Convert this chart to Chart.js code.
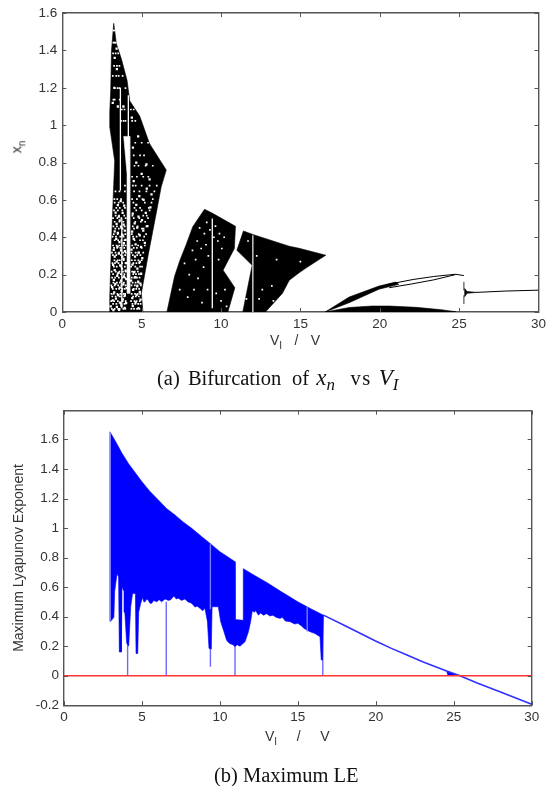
<!DOCTYPE html>
<html><head><meta charset="utf-8">
<script src="https://cdn.jsdelivr.net/npm/chart.js@4/dist/chart.umd.min.js"></script>
<style>
html,body{margin:0;padding:0;background:#fff;width:550px;height:786px;overflow:hidden}
canvas{position:absolute;left:0}
.t{position:absolute;white-space:pre;color:#333;font-family:"Liberation Sans",sans-serif;font-size:14px;line-height:16px}
.t sub{font-size:10px;vertical-align:-4px;line-height:0}
.c{position:absolute;white-space:nowrap;color:#111;font-family:"Liberation Serif",serif;font-size:20.5px;line-height:22px;word-spacing:3px}
.c i{font-size:23px}
.c sub{font-size:17px;vertical-align:-5px;line-height:0}
</style></head><body>
<canvas id="a" width="550" height="350" style="top:0;width:550px;height:350px"></canvas>
<canvas id="b" width="550" height="350" style="top:395px;width:550px;height:350px"></canvas>
<div class="t" style="left:270px;top:332px;word-spacing:-0.8px">V<sub>I</sub>    /    V</div>
<div class="t" style="left:265px;top:728px;word-spacing:1px">V<sub>I</sub>    /    V</div>
<div class="t" style="left:10px;top:139px;transform:rotate(-90deg);">x<sub>n</sub></div>
<div class="c" style="left:157px;top:367px">(a) Bifurcation <span style="margin-left:2.7px">of</span> <i style="display:inline-block;width:26px;margin-left:-1px">x<sub>n</sub></i> <span style="letter-spacing:1.5px">vs</span> <i style="margin-left:-1px">V<sub>I</sub></i></div>
<div class="c" style="left:214px;top:764px;word-spacing:0">(b) Maximum LE</div>
<script>
const xTicks=[0,5,10,15,20,25,30];
const yTicksA=[0,0.2,0.4,0.6,0.8,1,1.2,1.4,1.6];
const yTicksB=[-0.2,0,0.2,0.4,0.6,0.8,1,1.2,1.4,1.6];

// (a) black envelope outlines, [V, x]
const lobeMain=[[3.24,1.545],[3.41,1.435],[3.72,1.355],[4.08,1.24],[4.25,1.13],[4.87,1.05],[5.5,0.9],[6.55,0.76],[6.23,0.67],[5.92,0.53],[5.4,0.3],[4.98,0.1],[5.08,0],[2.99,0],[2.99,0.08],[3.05,0.245],[3.2,0.6],[3.3,0.81],[2.99,0.99],[2.99,1.07],[3.05,1.185],[3.1,1.4]];
const lobeMiddle=[[6.59,0],[7.07,0.19],[7.4,0.275],[7.8,0.36],[8.22,0.457],[8.96,0.55],[9.47,0.528],[10.91,0.459],[10.84,0.34],[10.13,0.224],[10.87,0.13],[10.43,0]];
const lobeRight=[[11.41,0.434],[12,0.415],[14.3,0.352],[14.92,0.341],[16.6,0.304],[15.35,0.235],[14.92,0.21],[14.3,0.17],[13.87,0.1],[12.8,0],[11.37,0],[11.96,0.25],[11,0.33]];
const wedgeUpper=[[16.56,0],[18.07,0.08],[19.95,0.139],[21,0.16],[21.2,0.148],[19.95,0.122],[18.07,0.05]];
const lineUpperA=[[20.4,0.146],[22.1,0.174],[23.4,0.19],[24.77,0.202],[25.3,0.195]];
const lineUpperB=[[20.6,0.13],[22,0.15],[23.4,0.172],[24.77,0.2]];
const archLower=[[16.56,0],[18.07,0.024],[19.5,0.032],[20.6,0.032],[22.3,0.025],[23.9,0.012],[24.77,0.002],[24.77,0],[16.56,0]];
const starBody=[[25.35,0.126],[25.5,0.11],[26.13,0.105],[25.5,0.1],[25.35,0.082]];
const settled=[[26.1,0.105],[27.9,0.112],[30,0.117]];
const jumpBarUp=[[25.3,0.162],[25.3,0.115]];
const jumpBarDown=[[25.3,0.09],[25.3,0.043]];
// white bands inside the envelopes
const whiteStrip=[[3.87,0.94],[4.25,0.94],[4.25,0.1],[4.08,0.1],[4.08,0.74]];
const whiteLines=[[[3.66,1.2],[3.66,0.65]],[[4.16,1.16],[4.16,0.6]],[[9.45,0.5],[9.45,0.02]],[[3.75,0.5],[3.75,0.02]]];
const greyLine=[[12,0.41],[12,0]];
// scattered holes in the black, one row per x value
const holeRowsY=[0.017,0.043,0.058,0.083,0.097,0.124,0.142,0.157,0.184,0.203,0.216,0.243,0.262,0.277,0.304,0.318,0.343,0.356,0.384,0.403,0.417,0.446,0.458,0.483,0.503,0.516,0.544,0.557,0.586,0.604,0.646,0.677,0.724,0.783,0.838,0.906,1.023,1.084,1.137,1.198,1.264,1.317,1.384,1.442,1.507];
const holeRowsV=[
[3.12,3.3,3.52,3.61,3.85,3.97,4.35,4.52,4.71,4.86],
[3.2,3.41,3.68,3.92,4.42,4.6,4.78,4.93],
[3.08,3.27,3.5,3.8,3.99,4.33,4.55,4.68,4.88],
[3.15,3.36,3.6,3.7,3.9,4.46,4.63,4.82],
[3.1,3.23,3.47,3.66,3.86,3.96,4.37,4.58,4.75,4.9],
[3.18,3.4,3.58,3.78,3.93,4.5,4.66,4.84],
[3.09,3.3,3.52,3.72,3.99,4.36,4.57,4.73,4.95],
[3.22,3.44,3.63,3.88,4.43,4.62,4.8],
[3.14,3.33,3.56,3.8,3.95,4.38,4.54,4.7,4.87],
[3.2,3.48,3.69,3.91,4.47,4.64,4.83,4.98],
[3.11,3.37,3.6,3.82,4.0,4.4,4.56,4.76],
[3.25,3.43,3.7,3.94,4.34,4.6,4.9,5.02],
[3.16,3.32,3.54,3.77,3.98,4.48,4.67,4.85],
[3.28,3.5,3.62,3.87,4.38,4.58,4.79,5.0],
[3.19,3.4,3.7,3.96,4.44,4.72,4.92],
[3.13,3.35,3.57,3.83,4.0,4.36,4.62,4.84,5.1],
[3.26,3.46,3.66,3.9,4.5,4.7,5.0],
[3.2,3.42,3.6,3.84,3.98,4.41,4.78,5.2],
[3.3,3.52,3.72,3.92,4.55,4.9,5.08],
[3.17,3.38,3.65,3.86,4.46,4.68,5.16],
[3.24,3.49,3.75,3.97,4.38,4.82,5.28],
[3.34,3.56,3.8,4.52,5.02,5.12],
[3.22,3.44,3.68,3.93,4.44,4.74,5.3],
[3.3,3.6,3.85,4.6,4.95,5.22],
[3.2,3.47,3.72,3.99,4.5,4.85,5.4],
[3.36,3.58,3.9,4.42,5.1,5.32],
[3.26,3.5,3.78,4.66,5.0,5.5],
[3.4,3.62,3.95,4.55,4.9,5.45],
[3.3,3.55,3.84,4.48,5.2,5.62],
[3.28,3.46,3.7,4.4,4.7,5.05,5.7],
[3.35,3.6,3.94,4.52,4.86,5.3,5.8],
[3.95,4.45,4.62,5.0,5.5,5.95],
[4.4,4.7,5.1,5.42],
[4.55,4.8,5.25,5.7],
[4.5,4.9,5.15],
[4.6,5.0,5.4],
[3.7,3.86,3.98,4.4,4.6],
[3.75,3.92,4.32,4.5],
[3.22,3.3,3.62,4.35,4.47],
[3.3,3.48,3.6,3.98],
[3.18,3.4,3.55,3.8],
[3.26,3.44,3.6],
[3.2,3.36,3.52],
[3.22,3.3,3.36],
[3.22,3.27]
];
// finer holes where the lower left of the lobe breaks up
const holesFine=[[3.05,0.03],[3.22,0.01],[3.44,0.028],[3.58,0.012],[3.72,0.034],[3.93,0.022],[3.18,0.062],[3.38,0.072],[3.63,0.05],[3.82,0.067],[4.02,0.048],[4.44,0.031],[4.62,0.052],[4.8,0.021],[4.93,0.066],[3.27,0.105],[3.52,0.09],[3.74,0.112],[3.94,0.088],[4.41,0.074],[4.68,0.092],[4.88,0.108],[3.14,0.133],[3.34,0.15],[3.62,0.13],[3.84,0.148],[4.05,0.128],[4.46,0.118],[4.72,0.137],[4.92,0.152],[3.25,0.172],[3.46,0.193],[3.7,0.168],[3.88,0.19],[4.03,0.176],[4.33,0.168],[4.6,0.186],[4.78,0.163],[3.3,0.224],[3.54,0.21],[3.76,0.232],[3.99,0.222],[4.52,0.214],[4.73,0.232],[4.96,0.206],[3.2,0.252],[3.42,0.27],[3.64,0.25],[3.86,0.284],[4.04,0.262],[4.42,0.254],[4.88,0.268],[3.3,0.296],[3.56,0.312],[3.78,0.296],[3.95,0.326],[4.58,0.296],[4.8,0.318],[5.04,0.288],[3.24,0.332],[3.48,0.35],[3.7,0.33],[3.88,0.368],[4.36,0.334],[4.62,0.362],[4.96,0.348],[3.4,0.392],[3.6,0.374],[3.8,0.41],[3.98,0.386],[4.5,0.392],[4.88,0.41],[5.2,0.37],[3.3,0.432],[3.5,0.424],[3.72,0.452],[3.94,0.436],[4.4,0.43],[4.72,0.452],[5.1,0.436],[3.42,0.472],[3.62,0.49],[3.86,0.468],[4.56,0.474],[5.02,0.492],[5.36,0.46],[3.36,0.532],[3.56,0.51],[3.8,0.53],[4.44,0.526],[4.8,0.51],[5.26,0.53],[3.5,0.572],[3.68,0.594],[3.9,0.57],[4.66,0.574],[5.12,0.6],[5.55,0.56],[4.85,0.62],[5.32,0.66],[5.62,0.63],[4.5,0.7],[5.0,0.74],[5.5,0.71],[4.66,0.8],[5.3,0.79],[4.45,0.88],[4.78,0.94],[3.28,1.2],[3.44,1.3],[3.3,1.36],[3.42,1.41],[3.18,1.12],[3.5,1.1],[3.85,1.1],[4.38,1.04]];
const holesMiddle=[[7.4,0.12],[7.7,0.26],[7.9,0.08],[8.0,0.2],[8.2,0.33],[8.3,0.12],[8.4,0.28],[8.5,0.38],[8.55,0.18],[8.65,0.45],[8.75,0.34],[8.8,0.05],[8.9,0.24],[8.95,0.42],[9.05,0.36],[9.1,0.48],[9.15,0.12],[9.2,0.3],[9.3,0.44],[9.55,0.4],[9.65,0.46],[9.7,0.1],[9.8,0.38],[9.85,0.28],[9.9,0.42],[10,0.06],[10.05,0.34],[10.2,0.4],[10.25,0.12],[10.35,0.03],[11.6,0.07],[11.7,0.38],[12.25,0.3],[12.4,0.07],[12.6,0.12],[13.2,0.14],[13.3,0.06],[13.5,0.28],[15,0.27]];

// (b) Lyapunov band, [V, LE]
const bandUpper=[[2.95,1.652],[3.38,1.573],[3.7,1.51],[4.13,1.438],[4.5,1.385],[5,1.314],[5.5,1.25],[6.16,1.178],[6.6,1.13],[7.12,1.088],[7.6,1.045],[8.19,0.998],[8.8,0.945],[9.37,0.896],[10,0.84],[10.5,0.805],[10.97,0.772],[10.98,0.38],[11.49,0.375],[11.5,0.725],[12.2,0.68],[13,0.632],[14,0.565],[15,0.5],[15.8,0.455],[16.64,0.41]];
const bandLower=[[2.95,0.366],[3.05,0.375],[3.2,0.395],[3.25,0.57],[3.4,0.69],[3.5,0.67],[3.55,0.16],[3.68,0.16],[3.72,0.6],[3.85,0.57],[3.9,0.43],[4.02,0.22],[4.15,0.2],[4.28,0.467],[4.4,0.557],[4.58,0.557],[4.62,0.15],[4.73,0.15],[4.79,0.43],[4.92,0.49],[5.05,0.53],[5.12,0.5],[5.2,0.5],[5.3,0.52],[5.41,0.51],[5.52,0.49],[5.63,0.49],[5.75,0.51],[5.95,0.5],[6.1,0.515],[6.26,0.5],[6.48,0.52],[6.69,0.51],[6.85,0.515],[7.05,0.54],[7.2,0.52],[7.33,0.525],[7.55,0.51],[7.76,0.52],[7.95,0.5],[8.19,0.49],[8.4,0.465],[8.55,0.47],[8.72,0.456],[8.9,0.44],[9.04,0.456],[9.2,0.366],[9.3,0.185],[9.45,0.18],[9.5,0.467],[9.9,0.467],[10.05,0.366],[10.26,0.298],[10.43,0.24],[10.6,0.22],[10.86,0.208],[10.97,0.196],[11.1,0.21],[11.29,0.2],[11.45,0.215],[11.61,0.23],[11.83,0.298],[11.97,0.366],[12.08,0.44],[12.2,0.43],[12.3,0.44],[12.47,0.41],[12.6,0.425],[12.8,0.41],[13,0.42],[13.21,0.404],[13.4,0.41],[13.6,0.395],[13.86,0.388],[14,0.395],[14.2,0.37],[14.5,0.366],[14.8,0.35],[15,0.355],[15.24,0.336],[15.4,0.32],[15.78,0.298],[16.1,0.285],[16.42,0.264],[16.5,0.106],[16.58,0.106],[16.64,0.41]];
const tail=[[16.64,0.41],[18,0.34],[19.95,0.237],[21,0.185],[22,0.14],[23,0.095],[24.54,0.032],[25.4,0],[26.5,-0.05],[28,-0.11],[30,-0.194]];
const tailBump=[[24.54,0.032],[24.62,0.005],[25.2,0.005],[24.9,0.018]];
const spikes=[[[4.08,0.22],[4.08,0]],[[6.56,0.5],[6.56,0]],[[9.39,0.2],[9.39,0.06]],[[10.97,0.2],[10.97,0]],[[16.6,0.41],[16.6,0]],[[3.6,0.3],[3.6,0.16]]];
const lightInBand=[[[9.39,0.89],[9.39,0.45]],[[15.6,0.467],[15.6,0.3]],[[2.97,1.65],[2.97,0.37]]];
const zeroLine=[[0,0],[30,0]];

const pts=a=>a.map(p=>({x:p[0],y:p[1]}));
const shape=(a,c)=>({data:pts(a.concat([a[0]])),fill:'shape',backgroundColor:c,borderColor:c,borderWidth:0.6,pointRadius:0,tension:0});
const stroke=(a,c,w)=>({data:pts(a),fill:false,borderColor:c,borderWidth:w,pointRadius:0,tension:0});

const AX='#555';
const boxTicks={id:'boxTicks',afterDraw(chart){
  const {ctx,chartArea:ca,scales:{x,y}}=chart;
  ctx.save();ctx.strokeStyle=AX;ctx.lineWidth=1;ctx.beginPath();
  x.ticks.forEach(t=>{const p=Math.round(x.getPixelForValue(t.value))+0.5;
    ctx.moveTo(p,ca.bottom);ctx.lineTo(p,ca.bottom-4);ctx.moveTo(p,ca.top);ctx.lineTo(p,ca.top+4);});
  y.ticks.forEach(t=>{const p=Math.round(y.getPixelForValue(t.value))+0.5;
    ctx.moveTo(ca.left,p);ctx.lineTo(ca.left+4,p);ctx.moveTo(ca.right,p);ctx.lineTo(ca.right-4,p);});
  ctx.stroke();ctx.restore();
}};
function axes(cfg){
  const border={color:AX,width:1.4};
  const hidden=(pos)=>({position:pos,border,ticks:{display:false},grid:{display:false,drawTicks:false}});
  const fitTicks=arr=>s=>{s.ticks=arr.map(v=>({value:v}));};
  const label=v=>String(Math.round(v*10)/10);
  const font={family:'"Liberation Sans",sans-serif',size:13.5};
  return {
    x:{type:'linear',position:'bottom',min:0,max:30,border,afterBuildTicks:fitTicks(xTicks),
       afterFit:s=>{s.height=cfg.xh;},
       grid:{display:false,drawTicks:false},
       ticks:{padding:4,color:'#333',font,maxRotation:0,autoSkip:false,callback:label}},
    y:{type:'linear',position:'left',min:cfg.ymin,max:cfg.ymax,border,afterBuildTicks:fitTicks(cfg.yticks),
       afterFit:s=>{s.width=cfg.left;},
       grid:{display:false,drawTicks:false},
       ticks:{padding:5,color:'#333',font,autoSkip:false,callback:label},
       title:cfg.ytitle?{display:true,text:cfg.ytitle,color:'#333',font:{family:font.family,size:14},padding:{top:11,bottom:0}}:{display:false}},
    x2:{...hidden('top'),type:'linear',min:0,max:30,afterFit:s=>{s.height=0;}},
    y2:{...hidden('right'),type:'linear',min:cfg.ymin,max:cfg.ymax,afterFit:s=>{s.width=0;}}
  };
}
const base=(cfg,datasets)=>({type:'scatter',plugins:[boxTicks],data:{datasets:datasets.map(d=>({showLine:true,...d}))},options:{
  animation:false,responsive:false,devicePixelRatio:1,
  layout:{padding:{top:cfg.top,right:cfg.right,left:0,bottom:0}},
  plugins:{legend:{display:false},tooltip:{enabled:false}},
  scales:axes(cfg)}});

const holes=[];
holeRowsY.forEach((y,i)=>holeRowsV[i].forEach(v=>holes.push([v,y])));

// Chart.js paints the first dataset last, so the white marks come first
new Chart(document.getElementById('a'),base(
 {top:12,right:10,left:62.3,xh:38,ymin:0,ymax:1.6,yticks:yTicksA},
 [
  {data:pts(holes.concat(holesMiddle)),showLine:false,pointStyle:'rect',pointRadius:1.2,backgroundColor:'#fff',borderWidth:0},
  {data:pts(holesFine),showLine:false,pointStyle:'rect',pointRadius:1.6,backgroundColor:'#fff',borderWidth:0},
  ...whiteLines.map(l=>stroke(l,'#fff',1.3)),stroke(greyLine,'#bbb',1),
  shape(whiteStrip,'#fff'),
  shape(lobeMain,'#000'),shape(lobeMiddle,'#000'),shape(lobeRight,'#000'),shape(wedgeUpper,'#000'),
  stroke(lineUpperA,'#000',1),stroke(lineUpperB,'#000',1),shape(archLower,'#000'),
  shape(starBody,'#000'),stroke(settled,'#000',1),stroke(jumpBarUp,'#555',1.2),stroke(jumpBarDown,'#555',1.2)
 ]));

new Chart(document.getElementById('b'),base(
 {top:15.7,right:18.3,left:64,xh:39.8,ymin:-0.2,ymax:1.795,yticks:yTicksB,ytitle:'Maximum Lyapunov Exponent'},
 [
  stroke(zeroLine,'#ff3333',1.4),
  ...lightInBand.map(l=>stroke(l,'#7a7aff',1.4)),
  shape(bandUpper.concat(bandLower.slice().reverse()),'#0000ff'),
  stroke(tail,'#3030ff',1.6),shape(tailBump,'#0000ff'),
  ...spikes.map(l=>stroke(l,'#6a6aff',1.4))
 ]));
</script>
</body></html>
